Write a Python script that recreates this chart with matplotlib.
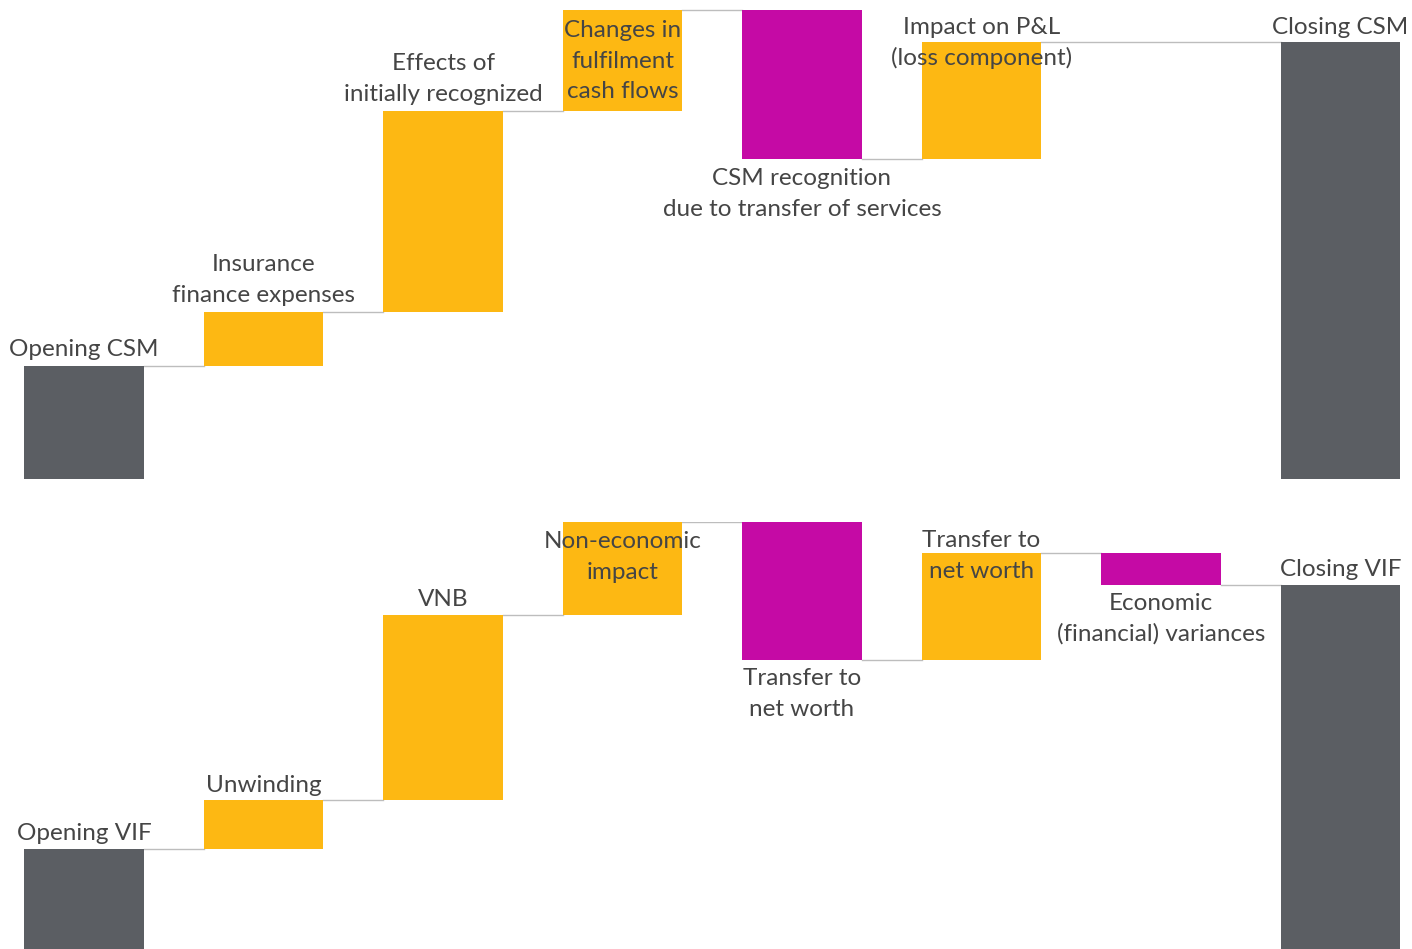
import matplotlib.pyplot as plt

plt.rcParams['font.family'] = ['Lato', 'DejaVu Sans']

# top waterfall (CSM)
csm_labels = ["Opening CSM", "Insurance\nfinance expenses", "Effects of\ninitially recognized",
              "Changes in\nfulfilment\ncash flows", "CSM recognition\ndue to transfer of services",
              "Impact on P&L\n(loss component)", "Closing CSM"]
csm_pos = [0, 1, 2, 3, 4, 5, 7]
csm_start = 113
csm_steps = [54, 201, 101, -149, 117]

# bottom waterfall (VIF)
vif_labels = ["Opening VIF", "Unwinding", "VNB", "Non-economic\nimpact", "Transfer to\nnet worth",
              "Transfer to\nnet worth", "Economic\n(financial) variances", "Closing VIF"]
vif_pos = [0, 1, 2, 3, 4, 5, 6, 7]
vif_start = 120
vif_steps = [49, 185, 93, -138, 107, -32]

# label placement: which edge of the bar, pixel offset of text centre
csm_anchor = [("top", 16), ("top", 32), ("top", 32), ("top", -51), ("bottom", -35), ("top", -1), ("top", 15)]
vif_anchor = [("top", 15), ("top", 15), ("top", 15), ("top", -35), ("bottom", -34), ("top", -3),
              ("bottom", -34), ("top", 16)]

GREY = "#5B5E63"
YELLOW = "#FDB813"
MAGENTA = "#C50AA5"
LINE = "#BDBDBD"
TEXT = "#454545"
W = 0.668


def waterfall(ax, labels, pos, start, steps, anchors):
    bottoms, heights, colors = [0], [start], [GREY]
    level = start
    for s in steps:
        if s >= 0:
            bottoms.append(level)
            heights.append(s)
            colors.append(YELLOW)
        else:
            bottoms.append(level + s)
            heights.append(-s)
            colors.append(MAGENTA)
        level += s
    bottoms.append(0)
    heights.append(level)
    colors.append(GREY)

    ax.bar(pos, heights, bottom=bottoms, width=W, color=colors, zorder=2)

    # connectors
    level = start
    for i in range(len(pos) - 1):
        ax.plot([pos[i] + W / 2, pos[i + 1] - W / 2], [level, level], color=LINE, lw=1, zorder=1)
        if i < len(steps):
            level += steps[i]

    for i, lab in enumerate(labels):
        edge, off = anchors[i]
        y = bottoms[i] + heights[i] if edge == "top" else bottoms[i]
        ax.annotate(lab, (pos[i], y), xytext=(0, off), textcoords="offset pixels",
                    ha="center", va="center", multialignment="center", fontsize=17.5,
                    linespacing=1.53, color=TEXT, zorder=3, annotation_clip=False)


fig = plt.figure(figsize=(14.12, 9.49), dpi=100)
H = 949.0
xl = (-84 / 179.5, (1412 - 84) / 179.5)

ax1 = fig.add_axes([0, (H - 479) / H, 1, 470 / H])
waterfall(ax1, csm_labels, csm_pos, csm_start, csm_steps, csm_anchor)
ax1.set_xlim(*xl)
ax1.set_ylim(0, 470)

ax2 = fig.add_axes([0, 0, 1, 427 / H])
waterfall(ax2, vif_labels, vif_pos, vif_start, vif_steps, vif_anchor)
ax2.set_xlim(*xl)
ax2.set_ylim(20, 447)

for ax in (ax1, ax2):
    ax.axis("off")

fig.savefig("out.png", dpi=100)
